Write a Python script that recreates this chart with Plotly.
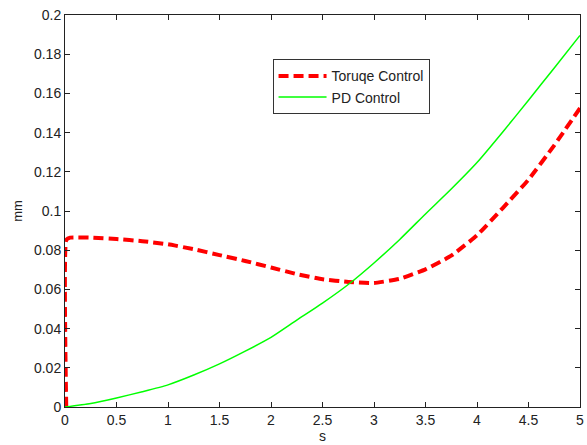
import plotly.graph_objects as go

# Torque control (red dashed)
torque_x = [0.012, 0.012, 0.05, 0.25, 0.5, 0.75, 1.0, 1.25, 1.5, 1.75, 2.0, 2.25, 2.5,
            2.75, 3.0, 3.25, 3.5, 3.75, 4.0, 4.25, 4.5, 4.75, 5.0]
torque_y = [0, 0.0852, 0.0864, 0.0864, 0.0857, 0.0846, 0.0830, 0.0805, 0.0775,
            0.0745, 0.0712, 0.0678, 0.0652, 0.0638, 0.0633, 0.0654, 0.0702,
            0.0772, 0.0876, 0.1015, 0.1160, 0.1335, 0.1525]

# PD control (green solid)
pd_x = [0, 0.25, 0.5, 0.75, 1.0, 1.25, 1.5, 1.75, 2.0, 2.25, 2.5, 2.75, 3.0,
        3.25, 3.5, 3.75, 4.0, 4.25, 4.5, 4.75, 5.0]
pd_y = [0, 0.0018, 0.0046, 0.0078, 0.0113, 0.0163, 0.0220, 0.0285, 0.0355,
        0.0443, 0.0530, 0.0625, 0.0735, 0.0855, 0.0985, 0.1112, 0.1247,
        0.1403, 0.1565, 0.1730, 0.1896]

x_ticks = [0, 0.5, 1, 1.5, 2, 2.5, 3, 3.5, 4, 4.5, 5]
y_ticks = [0, 0.02, 0.04, 0.06, 0.08, 0.1, 0.12, 0.14, 0.16, 0.18, 0.2]
y_tick_labels = ["0", "0.02", "0.04", "0.06", "0.08", "0.1", "0.12", "0.14",
                 "0.16", "0.18", "0.2"]
x_tick_labels = ["0", "0.5", "1", "1.5", "2", "2.5", "3", "3.5", "4", "4.5", "5"]

fig = go.Figure()
fig.add_trace(go.Scatter(
    x=torque_x, y=torque_y, mode="lines", name="Toruqe Control",
    line=dict(color="#ff0000", width=4, dash="10px,5px", shape="spline", smoothing=0.4),
    cliponaxis=False,
))
fig.add_trace(go.Scatter(
    x=pd_x, y=pd_y, mode="lines", name="PD Control",
    line=dict(color="#00ff00", width=1.5, shape="spline", smoothing=0.6),
    cliponaxis=False,
))

axis_common = dict(
    showgrid=False, zeroline=False, showline=True, linecolor="#222",
    linewidth=1, mirror="ticks", ticks="inside", ticklen=5, tickcolor="#222",
    tickfont=dict(family="Liberation Sans, Arial, sans-serif", size=14, color="#222"),
    ticklabeloverflow="allow",
)

fig.update_layout(
    width=587, height=445,
    margin=dict(l=65, r=3, t=15, b=36),
    paper_bgcolor="white", plot_bgcolor="white",
    font=dict(family="Liberation Sans, Arial, sans-serif", size=13, color="#222"),
    xaxis=dict(range=[0, 5], tickvals=x_ticks, ticktext=x_tick_labels,
               title=dict(text="s", standoff=4, font=dict(size=14)), **axis_common),
    yaxis=dict(range=[0, 0.2], tickvals=y_ticks, ticktext=y_tick_labels,
               title=dict(text="mm", standoff=8, font=dict(size=13)), **axis_common),
    legend=dict(
        x=0.403, y=0.887, xanchor="left", yanchor="top",
        bgcolor="white", bordercolor="#333", borderwidth=1,
        font=dict(size=14, color="#222"), tracegroupgap=0, itemwidth=48,
    ),
    showlegend=True,
)

fig.write_html(
    "out.html",
    config={"displayModeBar": False},
    post_script="document.body.style.margin='0';document.body.style.overflow='hidden';",
)
